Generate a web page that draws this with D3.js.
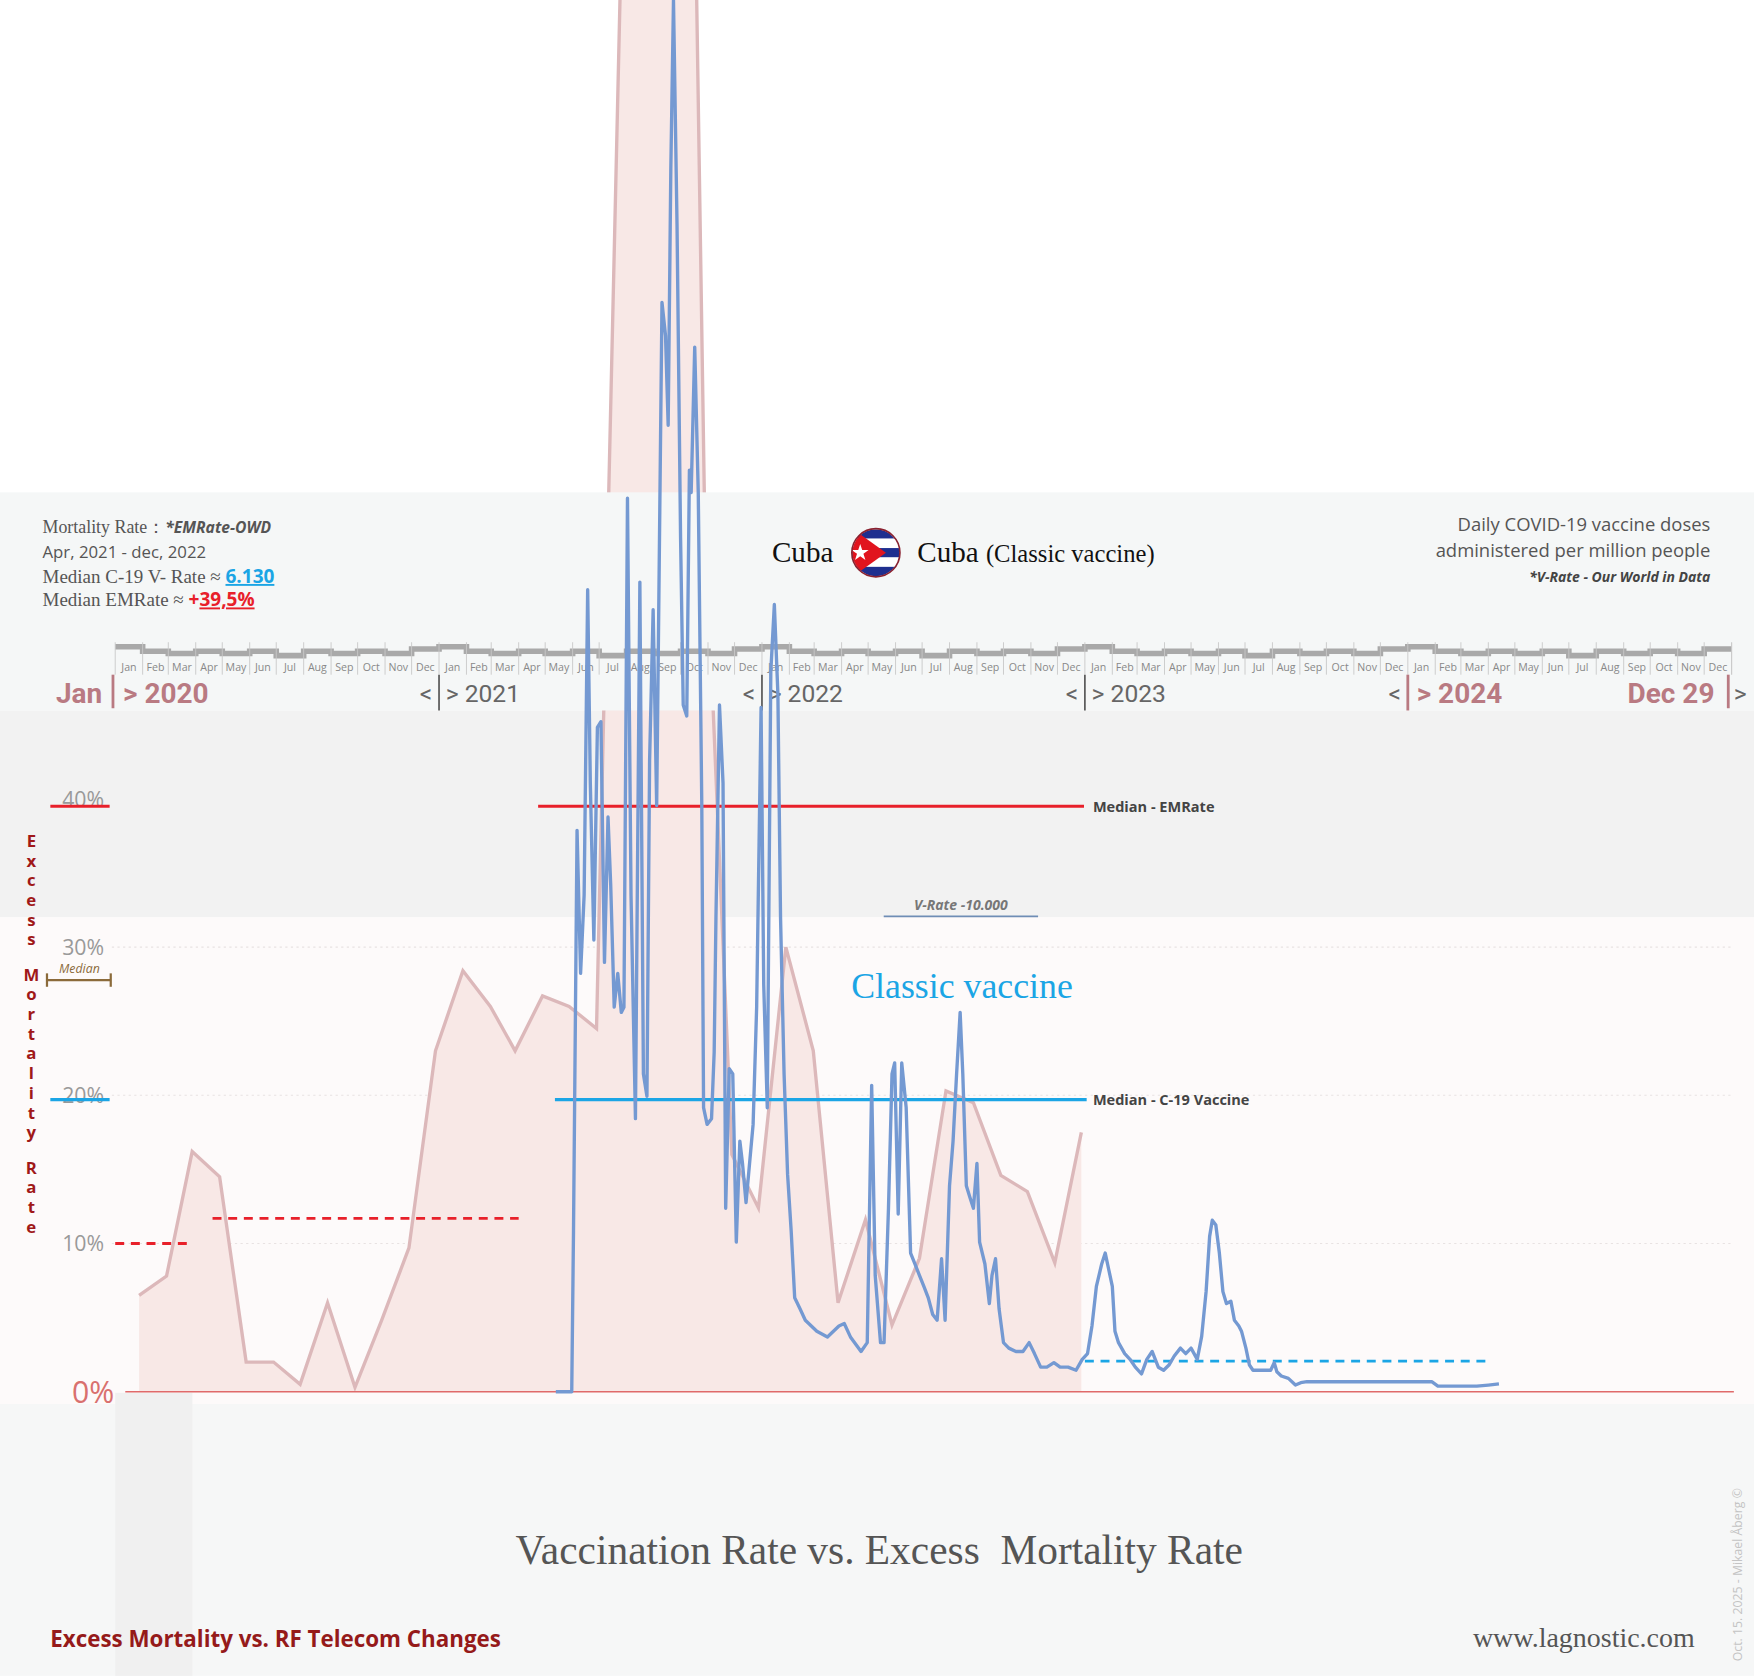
<!DOCTYPE html>
<html><head><meta charset="utf-8">
<script src="https://cdn.jsdelivr.net/npm/d3@7"></script>
<style>body{margin:0;background:#fff}svg{display:block}</style>
</head><body>
<script>
// Excess mortality (%) monthly, Jan 2020 .. Dec 2022
const emValues = [6.5,7.8,16.2,14.5,2,2,0.5,6,0.3,4.8,9.7,23,28.4,26,23,26.7,26,24.5,103,150,176,60,16,12.4,30,23,6,11.6,4.5,9,20.3,19.5,14.6,13.5,8.7,17.5];
// Vaccine doses per million: days since 2020-01-01 and values
const vDays = [498,516,518,522,526,530,534,537,541,545,549,553,557,560,564,568,572,575,579,583,588,593,597,601,604,608,612,618,622,625,628,631,635,639,642,646,649,651,655,659,663,665,669,674,677,679,683,687,690,694,698,702,706,709,713,717,721,725,730,733,737,741,745,749,752,756,760,764,768,774,780,793,805,818,824,831,843,850,855,859,865,869,874,878,881,885,889,894,899,904,909,914,919,924,929,934,938,943,947,951,955,958,962,966,970,974,977,983,988,991,995,999,1004,1010,1018,1026,1033,1039,1046,1053,1061,1068,1077,1086,1093,1099,1104,1109,1115,1119,1123,1127,1130,1134,1141,1147,1153,1160,1166,1172,1179,1185,1191,1197,1204,1210,1216,1223,1228,1233,1237,1240,1244,1248,1252,1256,1261,1265,1270,1273,1278,1282,1286,1299,1306,1310,1313,1318,1326,1334,1340,1347,1387,1488,1495,1539,1552,1564];
const vValues = [0,0,3380,11780,8780,10420,16830,12770,9480,13940,14060,9010,12060,10660,8070,8780,7960,8070,18750,10420,5730,16990,6670,6200,13240,16410,12300,22860,22160,20280,25680,29200,24500,17930,14410,14180,19340,18870,21920,18870,12300,5960,5610,5730,7130,9950,14410,12770,3850,6780,6670,3140,5260,4790,3970,4790,5610,8070,14360,8540,5960,15110,16520,14650,9950,6670,4550,3380,1970,1740,1500,1270,1150,1380,1430,1150,845,1030,6430,2440,1030,1030,3850,6670,6900,3730,6900,5960,2910,2680,2440,2210,1970,1620,1500,2790,1500,4320,5260,6670,7960,6670,4320,4080,3850,4790,3140,2680,1850,2440,2790,1740,1030,915,845,845,1030,800,515,515,610,515,515,450,680,800,1380,2210,2680,2910,2560,2210,1270,1030,800,680,515,375,680,845,515,450,560,750,915,800,915,680,1160,2100,3260,3600,3500,2910,2100,1850,1900,1500,1380,1270,915,560,450,450,450,610,420,330,280,140,190,210,210,210,117,117,140,165];
const monthNames = ["Jan","Feb","Mar","Apr","May","Jun","Jul","Aug","Sep","Oct","Nov","Dec"];
const monthLevels = [0,4,6,4,6,4,8,4,6,4,6,2];
const yearLabels = ["2020","2021","2022","2023","2024"];
const emTicks = [10,20,30,40];
const medianEM = 39.5, medianV = 6130, medianV2 = 640;

const W=1568,H=1498;
const svg=d3.select("body").append("svg").attr("width",1754).attr("height",1676).attr("viewBox",`0 0 ${W} ${H}`);
const t0=new Date(2020,0,1);
const x=d3.scaleTime().domain([t0,new Date(2025,0,1)]).range([103,1548]);
const yE=d3.scaleLinear().domain([0,10]).range([1244,1111.5]);
const yV=d3.scaleLinear().domain([0,10000]).range([1244,818]);
const serif="'Liberation Serif','DejaVu Serif',serif", sans="'Open Sans','Noto Sans',sans-serif";
const rect=(x0,y0,w,h,c)=>svg.append("rect").attr("x",x0).attr("y",y0).attr("width",w).attr("height",h).attr("fill",c);
rect(0,0,W,440,"#fff");
rect(0,635,W,185,"#f2f2f2");
rect(0,820,W,435,"#fdfafa");
rect(0,1255,W,243,"#f6f7f7");
rect(103,1245,69,253,"#f0f0f0");
emTicks.slice(0,3).forEach(v=>svg.append("line").attr("x1",100).attr("x2",1550).attr("y1",yE(v)).attr("y2",yE(v)).attr("stroke","#e8e2e2").attr("stroke-dasharray","2,3"));
const emPts=emValues.map((v,i)=>[d3.timeDay.offset(new Date(2020,i,1),27),v]);
svg.append("path").datum(emPts).attr("d",d3.area().x(d=>x(d[0])).y0(yE(0)).y1(d=>yE(d[1]))).attr("fill","#f8e8e6");
svg.append("path").datum(emPts).attr("d",d3.line().x(d=>x(d[0])).y(d=>yE(d[1]))).attr("fill","none").attr("stroke","#dcb8ba").attr("stroke-width",3);
rect(0,440,W,195,"#f5f7f7");
const months=d3.timeMonth.range(t0,new Date(2025,0,1));
let sp="";
months.forEach((m,i)=>{const a=x(m),b=x(d3.timeMonth.offset(m,1));const yy=578+monthLevels[i%12];sp+=(i?"L":"M")+a+","+yy+"L"+b+","+yy;});
svg.append("path").attr("d",sp).attr("fill","none").attr("stroke","#a9a9a9").attr("stroke-width",5);
months.forEach((m,i)=>{const a=x(m),b=x(d3.timeMonth.offset(m,1));
  svg.append("line").attr("x1",a).attr("x2",a).attr("y1",574).attr("y2",603).attr("stroke","#c8c8c8").attr("stroke-width",0.8);
  svg.append("text").attr("x",(a+b)/2).attr("y",600).attr("text-anchor","middle").attr("font-family",sans).attr("font-size",9.5).attr("fill","#888").text(monthNames[i%12]);});
svg.append("line").attr("x1",x(new Date(2025,0,1))).attr("x2",x(new Date(2025,0,1))).attr("y1",574).attr("y2",603).attr("stroke","#c8c8c8");
const yl=(px,txt,col,bold,sz)=>svg.append("text").attr("x",px).attr("y",628).attr("font-family","'Roboto',sans-serif").attr("font-weight",bold?"bold":"normal").attr("font-size",sz).attr("fill",col).text(txt);
yl(50,"Jan","#b97a82",true,25); svg.append("line").attr("x1",101).attr("x2",101).attr("y1",603).attr("y2",633).attr("stroke","#b97a82").attr("stroke-width",2.5);
yl(110,"> 2020","#b97a82",true,25);
[1,2,3].forEach(k=>{const px=x(new Date(2020+k,0,1));
  svg.append("text").attr("x",px-6).attr("y",627).attr("text-anchor","end").attr("font-family","'Roboto',sans-serif").attr("font-size",22).attr("fill","#666").text("<");
  svg.append("line").attr("x1",px).attr("x2",px).attr("y1",603).attr("y2",635).attr("stroke","#555").attr("stroke-width",1.5);
  svg.append("text").attr("x",px+6).attr("y",627).attr("font-family","'Roboto',sans-serif").attr("font-size",22).attr("fill","#666").text("> "+yearLabels[k]);});
{const px=x(new Date(2024,0,1));
  svg.append("text").attr("x",px-6).attr("y",627).attr("text-anchor","end").attr("font-family","'Roboto',sans-serif").attr("font-size",22).attr("fill","#666").text("<");
  svg.append("line").attr("x1",px).attr("x2",px).attr("y1",603).attr("y2",635).attr("stroke","#b97a82").attr("stroke-width",2.5);
  yl(px+8,"> "+yearLabels[4],"#b97a82",true,25);}
yl(1455,"Dec 29","#b97a82",true,25);
svg.append("line").attr("x1",1545).attr("x2",1545).attr("y1",603).attr("y2",633).attr("stroke","#b97a82").attr("stroke-width",2.5);
svg.append("text").attr("x",1550).attr("y",627).attr("font-family","'Roboto',sans-serif").attr("font-size",22).attr("fill","#666").text(">");
const tx=(px,py,txt,o)=>{const t=svg.append("text").attr("x",px).attr("y",py).text(txt);Object.entries(o||{}).forEach(([k,v])=>t.attr(k,v));return t;};
const h1=tx(38,476,"",{"font-family":serif,"font-size":16,"fill":"#555"});h1.append("tspan").text("Mortality Rate：");h1.append("tspan").attr("font-family",sans).attr("font-weight","bold").attr("font-style","italic").attr("font-size",14).text("*EMRate-OWD");
tx(38,499,"Apr, 2021 - dec, 2022",{"font-family":sans,"font-size":15,"fill":"#555"});
const h3=tx(38,521,"Median C-19 V- Rate ≈ ",{"font-family":serif,"font-size":17,"fill":"#555"});h3.append("tspan").attr("font-family",sans).attr("font-weight","bold").attr("fill","#1ba5e5").attr("text-decoration","underline").text("6.130");
const h4=tx(38,542,"Median EMRate ≈ ",{"font-family":serif,"font-size":17,"fill":"#555"});h4.append("tspan").attr("font-family",sans).attr("font-weight","bold").attr("fill","#e8202a").text("+");h4.append("tspan").attr("font-family",sans).attr("font-weight","bold").attr("fill","#e8202a").attr("text-decoration","underline").text("39,5%");
tx(1529,475,"Daily COVID-19 vaccine doses",{"text-anchor":"end","font-family":sans,"font-size":16.5,"fill":"#555"});
tx(1529,498,"administered per million people",{"text-anchor":"end","font-family":sans,"font-size":16.5,"fill":"#555"});
tx(1529,520,"*V-Rate - Our World in Data",{"text-anchor":"end","font-family":sans,"font-size":12.5,"font-weight":"bold","font-style":"italic","fill":"#444"});
tx(745,502,"Cuba",{"text-anchor":"end","font-family":serif,"font-size":26,"fill":"#111"});
const c2=tx(820,502,"Cuba ",{"font-family":serif,"font-size":26,"fill":"#111"});c2.append("tspan").attr("font-size",22).text("(Classic vaccine)");
const cp=svg.append("clipPath").attr("id","fc");cp.append("circle").attr("cx",783).attr("cy",494).attr("r",21);
const ff=svg.append("g").attr("clip-path","url(#fc)");
[0,1,2,3,4].forEach(k=>ff.append("rect").attr("x",760).attr("y",473+k*8.4).attr("width",46).attr("height",8.4).attr("fill",k%2?"#fff":"#1f2f8f"));
ff.append("path").attr("d","M760,471L792,494L760,517Z").attr("fill","#e1141e");
ff.append("path").attr("d",d3.symbol(d3.symbolStar,70)()).attr("transform","translate(769,494)").attr("fill","#fff");
svg.append("circle").attr("cx",783).attr("cy",494).attr("r",21.5).attr("fill","none").attr("stroke","#8a2230").attr("stroke-width",1.5);
emTicks.forEach(v=>tx(93,yE(v)+7,v+"%",{"text-anchor":"end","font-family":sans,"font-size":19,"fill":"#999"}));
tx(102,1254,"0%",{"text-anchor":"end","font-family":sans,"font-size":27,"fill":"#d9706e"});
const title="Excess Mortality Rate";let yy=757;
for(const ch of title){if(ch===" "){yy+=14;continue;}tx(28,yy,ch,{"text-anchor":"middle","font-family":sans,"font-weight":"bold","font-size":15,"fill":"#a01818"});yy+=17.6;}
svg.append("line").attr("x1",112).attr("x2",1550).attr("y1",1244).attr("y2",1244).attr("stroke","#e06a6a").attr("stroke-width",1.2);
const hl=(x1,x2,yv,c,w,da)=>svg.append("line").attr("x1",x1).attr("x2",x2).attr("y1",yv).attr("y2",yv).attr("stroke",c).attr("stroke-width",w).attr("stroke-dasharray",da||null);
hl(45,98,yE(medianEM),"#e8202a",2.5);hl(x(new Date(2021,3,23)),x(new Date(2022,11,31)),yE(medianEM),"#e8202a",2.5);
hl(45,98,yV(medianV),"#1ba5e5",3);hl(x(new Date(2021,4,12)),x(new Date(2023,0,3)),yV(medianV),"#1ba5e5",3);
hl(x(new Date(2020,0,1)),x(new Date(2020,2,25)),yE(10),"#e8202a",2.5,"8,6");
hl(x(new Date(2020,3,20)),x(new Date(2021,3,1)),yE(11.7),"#e8202a",2.5,"8,6");
hl(x(new Date(2023,0,1)),x(new Date(2024,2,31)),yV(medianV2),"#1ba5e5",2.5,"8,6");
tx(977,726,"Median - EMRate",{"font-family":sans,"font-weight":"bold","font-size":13,"fill":"#444"});
tx(977,988,"Median - C-19 Vaccine",{"font-family":sans,"font-weight":"bold","font-size":13,"fill":"#444"});
hl(790,928,yV(10000)+1,"#6f8db5",1.5);
tx(859,813,"V-Rate -10.000",{"text-anchor":"middle","font-family":sans,"font-style":"italic","font-weight":"bold","font-size":12.5,"fill":"#777"});
hl(42,99,876,"#8b6a3a",2);svg.append("line").attr("x1",42).attr("x2",42).attr("y1",870).attr("y2",882).attr("stroke","#8b6a3a").attr("stroke-width",2);
svg.append("line").attr("x1",99).attr("x2",99).attr("y1",870).attr("y2",882).attr("stroke","#8b6a3a").attr("stroke-width",2);
tx(71,870,"Median",{"text-anchor":"middle","font-family":sans,"font-style":"italic","font-size":11,"fill":"#8b6a3a"});
const vPts=vDays.map((d,i)=>[d3.timeDay.offset(t0,d),vValues[i]]);
svg.append("path").datum(vPts).attr("d",d3.line().x(d=>x(d[0])).y(d=>yV(d[1]))).attr("fill","none").attr("stroke","#7499d2").attr("stroke-width",3).attr("stroke-linejoin","round");
tx(860,892,"Classic vaccine",{"text-anchor":"middle","font-family":serif,"font-size":32,"fill":"#1ba5e5"});
tx(786,1398,"Vaccination Rate vs. Excess  Mortality Rate",{"text-anchor":"middle","font-family":serif,"font-size":37,"fill":"#555","xml:space":"preserve","style":"white-space:pre"});
tx(45,1472,"Excess Mortality vs. RF Telecom Changes",{"font-family":sans,"font-weight":"bold","font-size":20,"fill":"#951a1a"});
tx(1515,1472,"www.lagnostic.com",{"text-anchor":"end","font-family":serif,"font-size":25,"fill":"#555"});
tx(0,0,"Oct. 15. 2025 - Mikael Åberg ©",{"transform":"translate(1557,1485) rotate(-90)","font-family":sans,"font-size":11,"fill":"#c4c4c4"});
</script></body></html>
